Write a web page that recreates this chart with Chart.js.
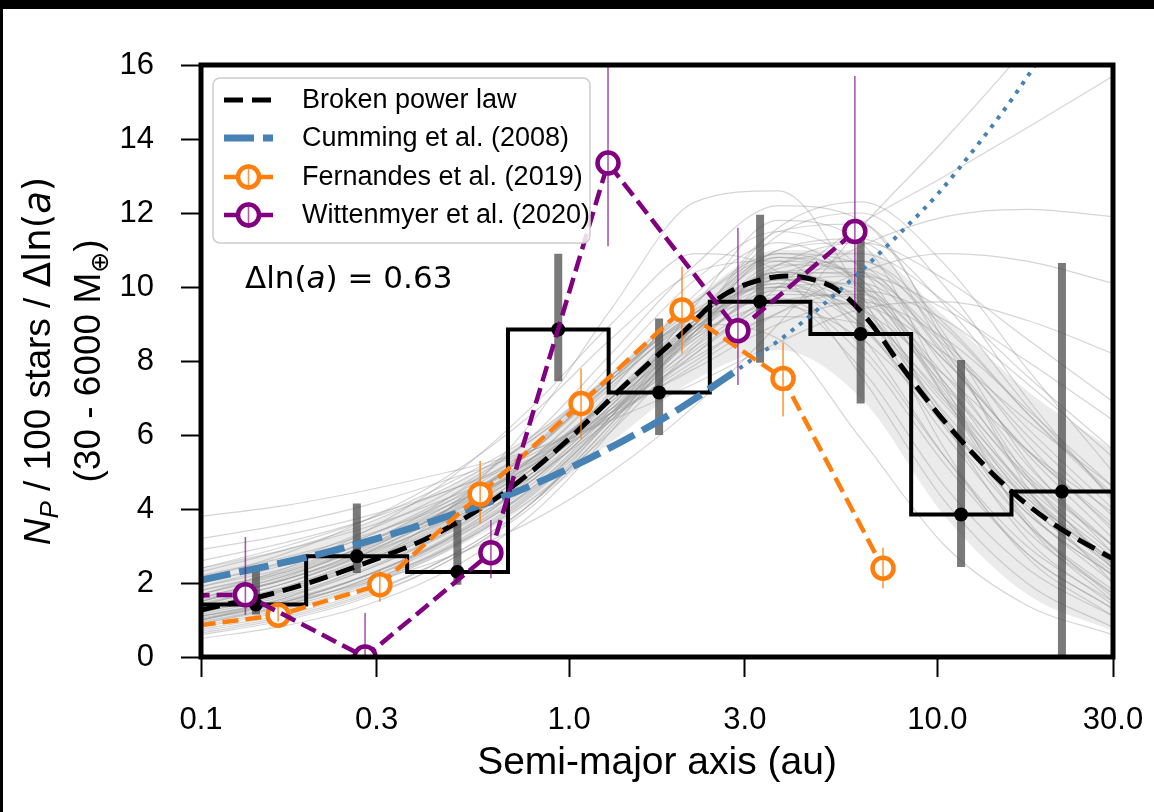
<!DOCTYPE html>
<html><head><meta charset="utf-8">
<script src="https://cdn.jsdelivr.net/npm/chart.js@4.4.1/dist/chart.umd.min.js"></script>
<style>
html,body{margin:0;padding:0;background:#000;width:1154px;height:812px;overflow:hidden;}
#wrap{position:absolute;left:3px;top:9px;width:1151px;height:803px;background:#fff;}
canvas{display:block;}
</style></head><body>
<div id="wrap"><canvas id="c" width="1151" height="803"></canvas></div>
<script>
// ---------------- data ----------------
const xTickValues = [0.1, 0.3, 1, 3, 10, 30];
const xTickLabels = ['0.1', '0.3', '1.0', '3.0', '10.0', '30.0'];
const yTickValues = [0, 2, 4, 6, 8, 10, 12, 14, 16];

const xTitle = 'Semi-major axis (au)';
const yTitleLine1 = ['N', 'P', ' / 100 stars / ', 'Δln(', 'a', ')'];
const yTitleLine2 = ['(30 - 6000 M', '⊕', ')'];
const annotationText = ['Δln(', 'a', ') = 0.63'];

// histogram (bins of Δln(a) = 0.63)
const histEdges = [0.1, 0.193, 0.363, 0.682, 1.28, 2.41, 4.52, 8.49, 15.9, 30];
const histCenters = [0.141, 0.265, 0.497, 0.934, 1.755, 3.30, 6.19, 11.6, 21.8];
const histValues = [1.42, 2.72, 2.30, 8.85, 7.15, 9.60, 8.73, 3.85, 4.47];
const histLow = [1.15, 2.27, 1.95, 7.45, 6.00, 7.95, 6.85, 2.43, 0.00];
const histHigh = [2.45, 4.15, 3.70, 10.90, 9.15, 11.95, 11.30, 8.03, 10.65];

// broken power law (best fit)
const bplA = [0.1, 0.15, 0.2, 0.3, 0.4, 0.5, 0.7, 1.0, 1.4, 2.0, 2.6, 3.2, 3.9, 4.6, 5.4, 6.5, 8.0, 10, 12.5, 16, 21, 30];
const bplValues = [1.27, 1.67, 2.03, 2.65, 3.15, 3.65, 4.6, 5.9, 7.3, 8.7, 9.75, 10.15, 10.3, 10.2, 9.9, 9.1, 7.85, 6.6, 5.5, 4.45, 3.55, 2.65];

// Cumming et al. (2008)
const cummingA = [0.1, 0.2, 0.3, 0.5, 0.7, 1.0, 1.5, 2.0, 2.9];
const cummingValues = [2.08, 2.73, 3.20, 3.90, 4.42, 5.10, 6.00, 6.72, 7.80];
const cummingExtA = [2.9, 4, 6, 8, 10, 13, 16, 19, 22];
const cummingExtValues = [7.80, 8.80, 10.30, 11.50, 12.50, 13.90, 15.10, 16.20, 17.20];

// Fernandes et al. (2019)
const fernA = [0.086, 0.162, 0.306, 0.573, 1.077, 2.025, 3.81, 7.12];
const fernValues = [0.78, 1.13, 1.95, 4.40, 6.85, 9.38, 7.53, 2.40];
const fernLow = [0.60, 0.95, 1.49, 3.60, 5.90, 8.20, 6.50, 1.86];
const fernHigh = [1.00, 1.35, 2.35, 5.30, 7.80, 10.55, 8.50, 2.95];

// Wittenmyer et al. (2020)
const witA = [0.062, 0.132, 0.279, 0.613, 1.275, 2.873, 5.97];
const witValues = [1.65, 1.68, 0.00, 2.82, 13.35, 8.82, 11.50];
const witLow = [1.65, 1.14, 0.00, 2.13, 11.10, 7.35, 9.43];
const witHigh = [1.65, 3.24, 1.19, 3.70, 17.00, 11.60, 15.70];

// posterior draws of the broken power law (grey curves)
const sampleA = [0.1, 0.17, 0.28, 0.47, 0.8, 1.3, 2.2, 3.7, 6.2, 10.5, 17.5, 30];
const sampleBandLow = [0.9, 1.35, 1.95, 2.85, 4.2, 5.8, 7.5, 8.3, 7.0, 3.8, 1.7, 0.7];
const sampleBandHigh = [2.4, 2.9, 3.6, 4.6, 6.0, 7.7, 9.7, 11.0, 11.0, 9.2, 7.2, 5.6];
const sampleCurves = [
  [1.3, 1.85, 2.6, 3.6, 5.1, 6.9, 9.0, 10.4, 9.5, 6.4, 3.9, 2.2],
  [1.0, 1.5, 2.2, 3.2, 4.7, 6.7, 9.0, 10.8, 10.2, 7.2, 4.5, 2.6],
  [1.8, 2.3, 3.0, 3.9, 5.1, 6.6, 8.3, 9.6, 9.8, 8.0, 5.6, 3.5],
  [0.8, 1.25, 1.9, 2.9, 4.4, 6.4, 8.8, 10.6, 10.4, 7.8, 4.8, 2.5],
  [2.2, 2.7, 3.3, 4.1, 5.2, 6.5, 8.0, 9.2, 9.0, 6.8, 4.3, 2.4],
  [1.5, 2.1, 2.9, 4.0, 5.6, 7.5, 9.4, 10.0, 8.4, 5.4, 3.0, 1.5],
  [1.1, 1.6, 2.35, 3.4, 5.0, 7.0, 9.3, 11.0, 11.3, 9.5, 6.8, 4.3],
  [2.6, 3.1, 3.7, 4.5, 5.5, 6.7, 8.1, 9.3, 9.9, 9.1, 7.4, 5.4],
  [0.6, 1.0, 1.6, 2.6, 4.1, 6.2, 8.8, 11.0, 11.2, 8.3, 4.9, 2.4],
  [1.6, 2.2, 3.0, 4.1, 5.6, 7.4, 9.1, 9.6, 7.8, 4.6, 2.4, 1.1],
  [1.2, 1.75, 2.5, 3.5, 5.0, 6.8, 8.9, 10.4, 10.5, 8.9, 6.6, 4.4],
  [3.2, 3.6, 4.1, 4.8, 5.6, 6.6, 7.8, 9.0, 9.6, 8.6, 6.7, 4.6],
  [0.9, 1.35, 2.0, 3.0, 4.5, 6.5, 9.0, 11.4, 12.0, 10.0, 7.0, 4.2],
  [1.4, 2.0, 2.8, 3.9, 5.4, 7.3, 9.3, 10.3, 9.0, 6.0, 3.4, 1.7],
  [2.0, 2.55, 3.25, 4.2, 5.4, 6.9, 8.6, 9.8, 9.7, 7.4, 4.8, 2.8],
  [0.7, 1.1, 1.7, 2.7, 4.2, 6.3, 9.0, 11.6, 12.3, 10.6, 7.8, 5.0],
  [1.3, 1.9, 2.7, 3.8, 5.4, 7.4, 9.6, 10.9, 10.1, 7.0, 4.0, 2.0],
  [1.9, 2.4, 3.1, 4.0, 5.2, 6.7, 8.4, 9.6, 9.5, 8.2, 6.4, 4.6],
  [1.05, 1.5, 2.2, 3.2, 4.6, 6.5, 8.7, 10.5, 10.7, 8.6, 5.8, 3.4],
  [2.4, 3.0, 3.7, 4.7, 6.0, 7.6, 9.2, 9.7, 8.2, 5.2, 2.8, 1.3],
  [1.7, 2.3, 3.1, 4.2, 5.7, 7.6, 9.6, 10.8, 10.0, 7.1, 4.2, 2.2],
  [1.2, 1.7, 2.4, 3.4, 4.8, 6.6, 8.6, 10.0, 10.3, 9.4, 8.0, 6.4],
  [0.5, 0.85, 1.4, 2.35, 3.9, 6.1, 9.0, 11.5, 11.7, 8.5, 4.6, 2.0],
  [3.8, 4.1, 4.5, 5.0, 5.6, 6.4, 7.4, 8.5, 9.4, 9.6, 9.1, 8.2],
  [2.9, 3.3, 3.8, 4.5, 5.4, 6.5, 7.9, 9.3, 10.4, 10.9, 10.7, 10.1],
  [1.6, 2.1, 2.8, 3.7, 4.9, 6.4, 8.2, 10.0, 11.7, 13.0, 14.3, 15.7],
  [1.1, 1.5, 2.0, 2.7, 3.7, 5.0, 6.8, 9.0, 11.6, 14.0, 16.5, 19.5],
  [2.3, 2.9, 3.6, 4.6, 5.9, 7.5, 9.3, 10.0, 8.9, 6.3, 3.9, 2.2],
  [1.4, 2.0, 2.8, 4.0, 5.7, 7.9, 10.2, 11.5, 10.5, 7.0, 3.7, 1.6],
  [0.95, 1.4, 2.1, 3.1, 4.6, 6.6, 8.9, 10.3, 9.7, 7.3, 4.9, 3.0],
  [1.5, 2.15, 3.05, 4.3, 6.0, 8.2, 10.6, 12.2, 11.8, 8.7, 5.3, 2.8],
  [2.1, 2.8, 3.7, 4.9, 6.6, 8.6, 10.4, 10.7, 8.7, 5.4, 2.8, 1.3],
  [1.3, 1.8, 2.5, 3.5, 4.9, 6.7, 8.8, 10.6, 11.2, 10.2, 8.6, 6.9],
  [0.75, 1.15, 1.75, 2.7, 4.2, 6.3, 8.8, 10.4, 9.6, 6.5, 3.6, 1.7],
  [1.8, 2.35, 3.1, 4.1, 5.4, 7.0, 8.8, 9.9, 9.4, 7.6, 5.6, 3.9],
  [1.0, 1.45, 2.05, 2.95, 4.3, 6.1, 8.4, 10.3, 10.7, 9.0, 6.6, 4.3],
  [1.0, 1.6, 2.5, 4.0, 6.4, 9.4, 12.3, 12.6, 9.8, 5.6, 2.7, 1.1],
  [1.7, 2.4, 3.4, 4.8, 6.8, 9.0, 10.9, 10.4, 7.6, 4.2, 2.0, 0.8],
  [0.65, 1.05, 1.65, 2.6, 4.2, 6.5, 9.5, 11.8, 11.2, 7.3, 3.6, 1.5],
  [1.5, 2.1, 2.9, 4.0, 5.6, 7.5, 9.0, 8.6, 5.9, 3.0, 1.4, 0.6],
  [2.4, 2.9, 3.5, 4.3, 5.3, 6.6, 8.2, 9.8, 11.1, 11.9, 12.1, 11.9],
  [1.25, 1.8, 2.55, 3.55, 5.0, 6.8, 8.8, 10.2, 9.9, 7.6, 5.0, 3.0],
  [1.45, 2.0, 2.75, 3.75, 5.2, 7.0, 9.0, 10.1, 9.2, 6.6, 4.1, 2.3],
  [1.15, 1.65, 2.35, 3.35, 4.8, 6.6, 8.7, 10.2, 10.0, 8.0, 5.6, 3.6],
  [1.6, 2.2, 2.95, 3.95, 5.3, 7.0, 8.9, 10.0, 9.3, 7.0, 4.6, 2.7],
  [0.85, 1.3, 1.95, 2.95, 4.45, 6.5, 9.0, 10.9, 10.6, 8.1, 5.2, 3.0],
  [1.35, 1.9, 2.65, 3.7, 5.2, 7.1, 9.1, 10.4, 10.3, 8.5, 6.2, 4.0],
  [1.9, 2.5, 3.25, 4.3, 5.7, 7.4, 9.2, 10.1, 9.0, 6.2, 3.6, 1.8],
  [1.1, 1.55, 2.2, 3.15, 4.55, 6.4, 8.5, 10.0, 10.1, 8.4, 6.0, 3.8],
  [1.55, 2.1, 2.85, 3.85, 5.25, 7.0, 8.9, 10.3, 10.4, 8.2, 5.5, 3.2],
  [0.9, 1.4, 2.1, 3.2, 4.9, 7.2, 9.8, 11.2, 10.0, 6.3, 3.2, 1.4],
  [1.3, 1.85, 2.6, 3.65, 5.1, 7.0, 9.1, 10.6, 10.9, 9.6, 7.6, 5.6],
  [2.0, 2.6, 3.4, 4.45, 5.9, 7.6, 9.3, 10.2, 9.4, 6.9, 4.4, 2.5],
  [1.0, 1.5, 2.2, 3.25, 4.8, 6.8, 9.1, 10.7, 10.2, 7.4, 4.5, 2.4],
  [1.7, 2.25, 3.0, 4.0, 5.35, 7.0, 8.7, 9.5, 8.6, 6.4, 4.3, 2.6]
];

// ---------------- styles ----------------
const C_ORANGE = '#ff7f0e';
const C_PURPLE = '#800080';
const C_BLUE = '#4682b4';
const FONT_SANS = '"Liberation Sans", Arial, Helvetica, sans-serif';
const FONT_MATH = '"DejaVu Sans", sans-serif';

function pts(xs, ys) { return xs.map((x, i) => ({x: x, y: ys[i]})); }
function errSegs(xs, lo, hi) {
  const out = [];
  xs.forEach((x, i) => { out.push({x: x, y: lo[i]}, {x: x, y: hi[i]}, {x: x, y: null}); });
  return out;
}

const datasets = [];
// topmost first (lower order drawn later)
datasets.push({ label: 'witErr', data: errSegs(witA, witLow, witHigh), borderColor: 'rgba(128,0,128,0.65)', borderWidth: 1.6, pointRadius: 0, spanGaps: false, order: 1 });
datasets.push({ label: 'Wittenmyer et al. (2020)', legend: 3, errColor: 'rgba(128,0,128,0.65)', data: pts(witA, witValues), borderColor: C_PURPLE, borderWidth: 4.5, borderDash: [16, 7], pointRadius: 10.5, pointBorderWidth: 4.5, pointBorderColor: C_PURPLE, pointBackgroundColor: '#ffffff', order: 2 });
datasets.push({ label: 'fernErr', data: errSegs(fernA, fernLow, fernHigh), borderColor: 'rgba(255,127,14,0.8)', borderWidth: 1.6, pointRadius: 0, spanGaps: false, order: 3 });
datasets.push({ label: 'Fernandes et al. (2019)', legend: 2, errColor: 'rgba(255,127,14,0.8)', data: pts(fernA, fernValues), borderColor: C_ORANGE, borderWidth: 4.5, borderDash: [16, 7], pointRadius: 10.5, pointBorderWidth: 4.5, pointBorderColor: C_ORANGE, pointBackgroundColor: '#ffffff', order: 4 });
datasets.push({ label: 'Cumming et al. (2008)', legend: 1, data: pts(cummingA, cummingValues), borderColor: C_BLUE, borderWidth: 7, borderDash: [30, 9], pointRadius: 0, cubicInterpolationMode: 'monotone', order: 5 });
datasets.push({ label: 'cummingExt', data: pts(cummingExtA, cummingExtValues), borderColor: C_BLUE, borderWidth: 4, borderDash: [4, 6.6], pointRadius: 0, cubicInterpolationMode: 'monotone', order: 5 });
datasets.push({ label: 'Broken power law', legend: 0, data: pts(bplA, bplValues), borderColor: '#000', borderWidth: 5, borderDash: [19, 9], pointRadius: 0, cubicInterpolationMode: 'monotone', order: 6 });
datasets.push({ label: 'histDots', data: pts(histCenters, histValues), showLine: false, pointRadius: 7, pointBackgroundColor: '#000', pointBorderColor: '#000', pointBorderWidth: 0, order: 7 });
datasets.push({ label: 'histStep', data: histEdges.map((e, i) => ({x: e, y: histValues[Math.min(i, histValues.length - 1)]})), stepped: true, borderColor: '#000', borderWidth: 4, pointRadius: 0, order: 8 });
datasets.push({ label: 'histErr', data: errSegs(histCenters, histLow, histHigh), borderColor: 'rgba(70,70,70,0.72)', borderWidth: 8, borderCapStyle: 'butt', pointRadius: 0, spanGaps: false, order: 9 });
sampleCurves.forEach((c, k) => {
  datasets.push({ label: 'draw' + k, data: pts(sampleA, c), borderColor: 'rgba(150,150,150,0.4)', borderWidth: 1.2, pointRadius: 0, cubicInterpolationMode: 'monotone', order: 10 });
});
datasets.forEach(d => { d.clip = 0; d.fill = false; });
datasets.push({ label: 'bandLow', data: pts(sampleA, sampleBandLow), borderWidth: 0, borderColor: 'rgba(0,0,0,0)', pointRadius: 0, cubicInterpolationMode: 'monotone', fill: false, clip: 0, order: 12 });
datasets.push({ label: 'bandHigh', data: pts(sampleA, sampleBandHigh), borderWidth: 0, borderColor: 'rgba(0,0,0,0)', pointRadius: 0, cubicInterpolationMode: 'monotone', fill: '-1', backgroundColor: 'rgba(165,165,165,0.22)', clip: 0, order: 11 });

// ---------------- helpers ----------------
function drawRuns(ctx, runs, x, baseline, align) {
  let total = 0;
  runs.forEach(r => { ctx.font = r.font; r.w = ctx.measureText(r.text).width; total += r.w; });
  let cx = align === 'center' ? x - total / 2 : x;
  runs.forEach(r => { ctx.font = r.font; ctx.fillText(r.text, cx, baseline + (r.dy || 0)); cx += r.w; });
}
function roundRectPath(ctx, x, y, w, h, r) {
  ctx.beginPath();
  ctx.moveTo(x + r, y);
  ctx.arcTo(x + w, y, x + w, y + h, r);
  ctx.arcTo(x + w, y + h, x, y + h, r);
  ctx.arcTo(x, y + h, x, y, r);
  ctx.arcTo(x, y, x + w, y, r);
  ctx.closePath();
}

const decor = {
  id: 'decor',
  afterDatasetsDraw(chart) {
    const ctx = chart.ctx, a = chart.chartArea;
    ctx.save();
    // frame
    ctx.lineWidth = 5; ctx.strokeStyle = '#000'; ctx.setLineDash([]);
    ctx.strokeRect(a.left, a.top, a.right - a.left, a.bottom - a.top);
    // annotation
    ctx.fillStyle = '#000'; ctx.textBaseline = 'alphabetic';
    drawRuns(ctx, [
      {text: annotationText[0], font: '31px ' + FONT_MATH},
      {text: annotationText[1], font: 'oblique 31px ' + FONT_MATH},
      {text: annotationText[2], font: '31px ' + FONT_MATH}
    ], a.left + 44, a.top + 223, 'left');
    // legend
    const lx = a.left + 12, ly = a.top + 13, lw = 377, lh = 165;
    roundRectPath(ctx, lx, ly, lw, lh, 7);
    ctx.fillStyle = 'rgba(255,255,255,0.85)'; ctx.fill();
    ctx.lineWidth = 1.5; ctx.strokeStyle = '#cccccc'; ctx.stroke();
    const rows = [35, 73, 112, 150];
    const items = chart.data.datasets.filter(d => d.legend !== undefined).sort((p, q) => p.legend - q.legend);
    items.forEach((d, i) => {
      const y = a.top + rows[i];
      const x0 = a.left + 23, x1 = a.left + 72, xc = (x0 + x1) / 2;
      ctx.save();
      ctx.strokeStyle = d.borderColor; ctx.lineWidth = d.borderWidth; ctx.lineCap = 'butt';
      ctx.setLineDash(d.pointRadius > 0 ? [] : (d.borderDash || []));
      ctx.beginPath(); ctx.moveTo(x0, y); ctx.lineTo(x1, y); ctx.stroke();
      if (d.pointRadius > 0) {
        ctx.setLineDash([]);
        ctx.beginPath(); ctx.arc(xc, y, d.pointRadius, 0, Math.PI * 2);
        ctx.fillStyle = '#fff'; ctx.fill();
        ctx.lineWidth = d.pointBorderWidth; ctx.strokeStyle = d.pointBorderColor; ctx.stroke();
        ctx.lineWidth = 1.6; ctx.strokeStyle = d.errColor;
        ctx.beginPath(); ctx.moveTo(xc, y - 13); ctx.lineTo(xc, y + 13); ctx.stroke();
      }
      ctx.restore();
      ctx.fillStyle = '#000'; ctx.font = '27px ' + FONT_SANS; ctx.textBaseline = 'middle'; ctx.textAlign = 'left';
      ctx.fillText(d.label, a.left + 101, y + 1);
    });
    ctx.restore();
  },
  afterDraw(chart) {
    const ctx = chart.ctx, a = chart.chartArea;
    const cy = (a.top + a.bottom) / 2;
    ctx.save();
    ctx.fillStyle = '#000'; ctx.textBaseline = 'alphabetic';
    ctx.translate(47, cy); ctx.rotate(-Math.PI / 2);
    drawRuns(ctx, [
      {text: yTitleLine1[0], font: 'italic 37px ' + FONT_SANS},
      {text: yTitleLine1[1], font: 'italic 26px ' + FONT_SANS, dy: 8},
      {text: yTitleLine1[2], font: '37px ' + FONT_SANS},
      {text: yTitleLine1[3], font: '37px ' + FONT_MATH},
      {text: yTitleLine1[4], font: 'oblique 37px ' + FONT_MATH},
      {text: yTitleLine1[5], font: '37px ' + FONT_MATH}
    ], 0, 0, 'center');
    ctx.restore();
    ctx.save();
    ctx.fillStyle = '#000'; ctx.textBaseline = 'alphabetic';
    ctx.translate(97, cy); ctx.rotate(-Math.PI / 2);
    drawRuns(ctx, [
      {text: yTitleLine2[0], font: '37px ' + FONT_SANS},
      {text: yTitleLine2[1], font: '25px ' + FONT_MATH, dy: 8},
      {text: yTitleLine2[2], font: '37px ' + FONT_SANS}
    ], 0, 0, 'center');
    ctx.restore();
  }
};

new Chart(document.getElementById('c'), {
  type: 'line',
  data: { datasets: datasets },
  plugins: [decor],
  options: {
    responsive: false,
    animation: false,
    events: [],
    layout: { padding: { left: 0, top: 56, right: 41, bottom: 0 } },
    plugins: { legend: { display: false }, tooltip: { enabled: false } },
    scales: {
      x: {
        type: 'logarithmic', min: 0.1, max: 30, bounds: 'data',
        afterBuildTicks: s => { s.ticks = xTickValues.map(v => ({value: v, major: true})); },
        afterFit: s => { s.height = 155; s.paddingLeft = 0; s.paddingRight = 0; },
        ticks: { callback: (v, i) => xTickLabels[i], autoSkip: false, maxRotation: 0, color: '#000', padding: 25, font: { family: FONT_SANS, size: 31 } },
        grid: { drawOnChartArea: false, drawTicks: true, tickLength: 20, tickWidth: 2, tickColor: '#000' },
        border: { display: false },
        title: { display: true, text: xTitle, color: '#000', font: { family: FONT_SANS, size: 39 }, padding: { top: 0, bottom: 25 } }
      },
      y: {
        type: 'linear', min: 0, max: 16,
        afterBuildTicks: s => { s.ticks = yTickValues.map(v => ({value: v})); },
        afterFit: s => { s.width = 198; s.paddingTop = 0; s.paddingBottom = 0; },
        ticks: { callback: v => String(v), color: '#000', padding: 27, font: { family: FONT_SANS, size: 31 } },
        grid: { drawOnChartArea: false, drawTicks: true, tickLength: 20, tickWidth: 2, tickColor: '#000' },
        border: { display: false },
        title: { display: false }
      }
    }
  }
});
</script>
</body></html>
